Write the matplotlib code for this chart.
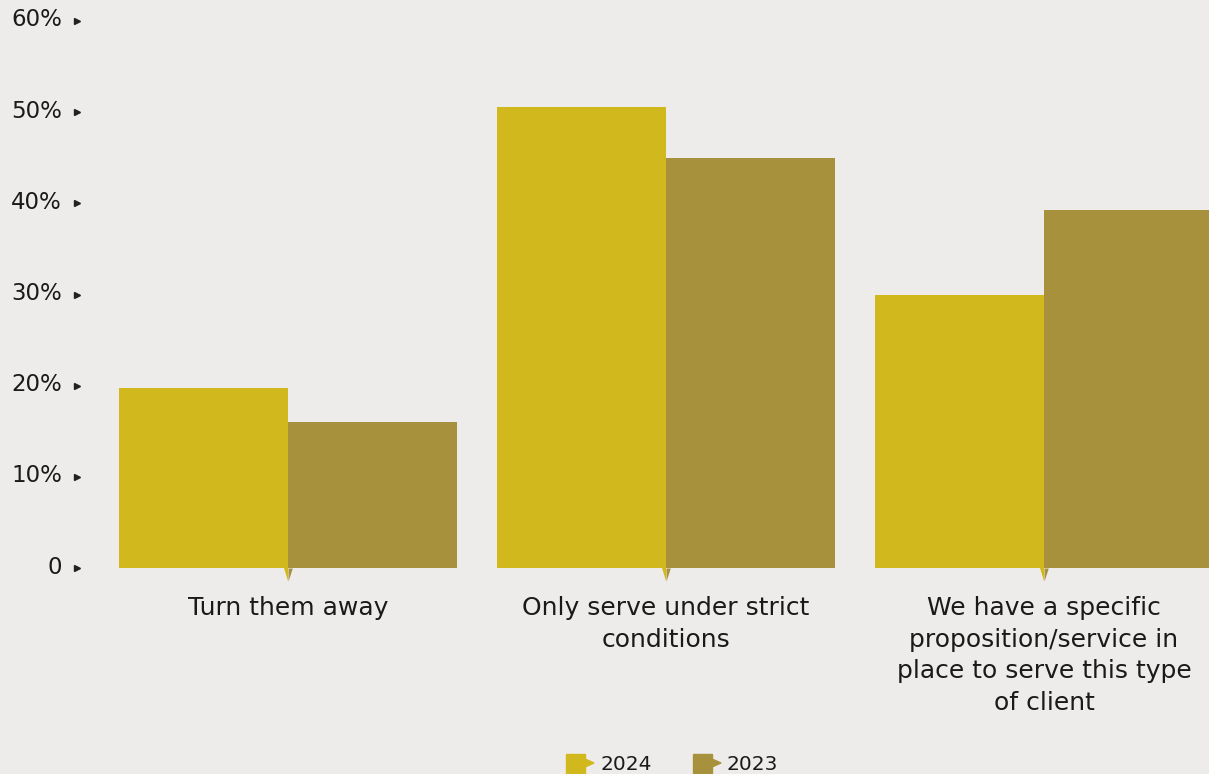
import matplotlib.pyplot as plt
from matplotlib.patches import Rectangle, Polygon
import numpy as np

plt.rcParams['font.family'] = ['DejaVu Sans']

categories = [
    "Turn them away",
    "Only serve under strict\nconditions",
    "We have a specific\nproposition/service in\nplace to serve this type\nof client",
]
series_names = ["2024", "2023"]
values_2024 = [19.7, 50.6, 29.9]
values_2023 = [16.0, 45.0, 39.3]
y_ticks = [0, 10, 20, 30, 40, 50, 60]
y_tick_labels = ["0", "10%", "20%", "30%", "40%", "50%", "60%"]

bg = "#EEECEA"
c2024 = "#D1B91D"
c2023 = "#A8913C"
text_c = "#1a1a1a"

W, H = 1209, 774
fig = plt.figure(figsize=(W / 100, H / 100), dpi=100, facecolor=bg)
left_px, right_px, top_px, bottom_px = 99, 1209, 21, 568
ax = fig.add_axes([left_px / W, (H - bottom_px) / H,
                   (right_px - left_px) / W, (bottom_px - top_px) / H])
ax.set_facecolor(bg)

x = np.arange(len(categories))
bw = 0.446
ax.bar(x - bw / 2, values_2024, width=bw, color=c2024, zorder=2)
ax.bar(x + bw / 2, values_2023, width=bw, color=c2023, zorder=2)

slot_px = 378.0
ax.set_xlim(-0.5, -0.5 + (right_px - left_px) / slot_px)
ax.set_ylim(0, 60)

for s in ax.spines.values():
    s.set_visible(False)
ax.set_xticks([])
ax.set_yticks([])

# y tick labels with small right-pointing triangles
ytrans = ax.get_yaxis_transform()
tick_x = -22 / (right_px - left_px)
for v, lab in zip(y_ticks, y_tick_labels):
    ax.annotate(lab, xy=(0, v), xycoords=ytrans, xytext=(-37, 1),
                textcoords="offset pixels", ha="right", va="center",
                fontsize=16.5, color=text_c, annotation_clip=False)
    ax.plot([tick_x], [v], transform=ytrans, marker=">", markersize=4.5,
            color="#222222", clip_on=False, zorder=3, linestyle="none")

# category labels and down-pointing markers
xtrans = ax.get_xaxis_transform()
tri_l = [(-0.85, 0), (0, 0), (0, -2.6)]
tri_r = [(0, 0), (0.85, 0), (0, -2.6)]
for xi, cat in zip(x, categories):
    ax.plot([xi], [0], marker=tri_l, markersize=19, color=c2024,
            markeredgewidth=0, clip_on=False, linestyle="none", zorder=3)
    ax.plot([xi], [0], marker=tri_r, markersize=19, color=c2023,
            markeredgewidth=0, clip_on=False, linestyle="none", zorder=3)
    ax.annotate(cat, xy=(xi, 0), xycoords=xtrans, xytext=(0, -28),
                textcoords="offset pixels", ha="center", va="top",
                fontsize=18, color=text_c, linespacing=1.4,
                annotation_clip=False)

# legend
def legend_item(x0, y0, color, label):
    sq = 19
    fig.patches.append(Rectangle((x0 / W, (H - y0 - sq / 2) / H), sq / W, sq / H,
                                 transform=fig.transFigure, color=color))
    fig.patches.append(Polygon([((x0 + sq) / W, (H - y0 + 4) / H),
                                ((x0 + sq + 9) / W, (H - y0) / H),
                                ((x0 + sq) / W, (H - y0 - 4) / H)],
                               closed=True, transform=fig.transFigure,
                               color=color))
    fig.text((x0 + sq + 15) / W, (H - y0 - 1) / H, label, ha="left",
             va="center", fontsize=14.5, color=text_c)

legend_item(566, 763, c2024, series_names[0])
legend_item(693, 763, c2023, series_names[1])

fig.savefig("out.png", dpi=100, facecolor=bg)
